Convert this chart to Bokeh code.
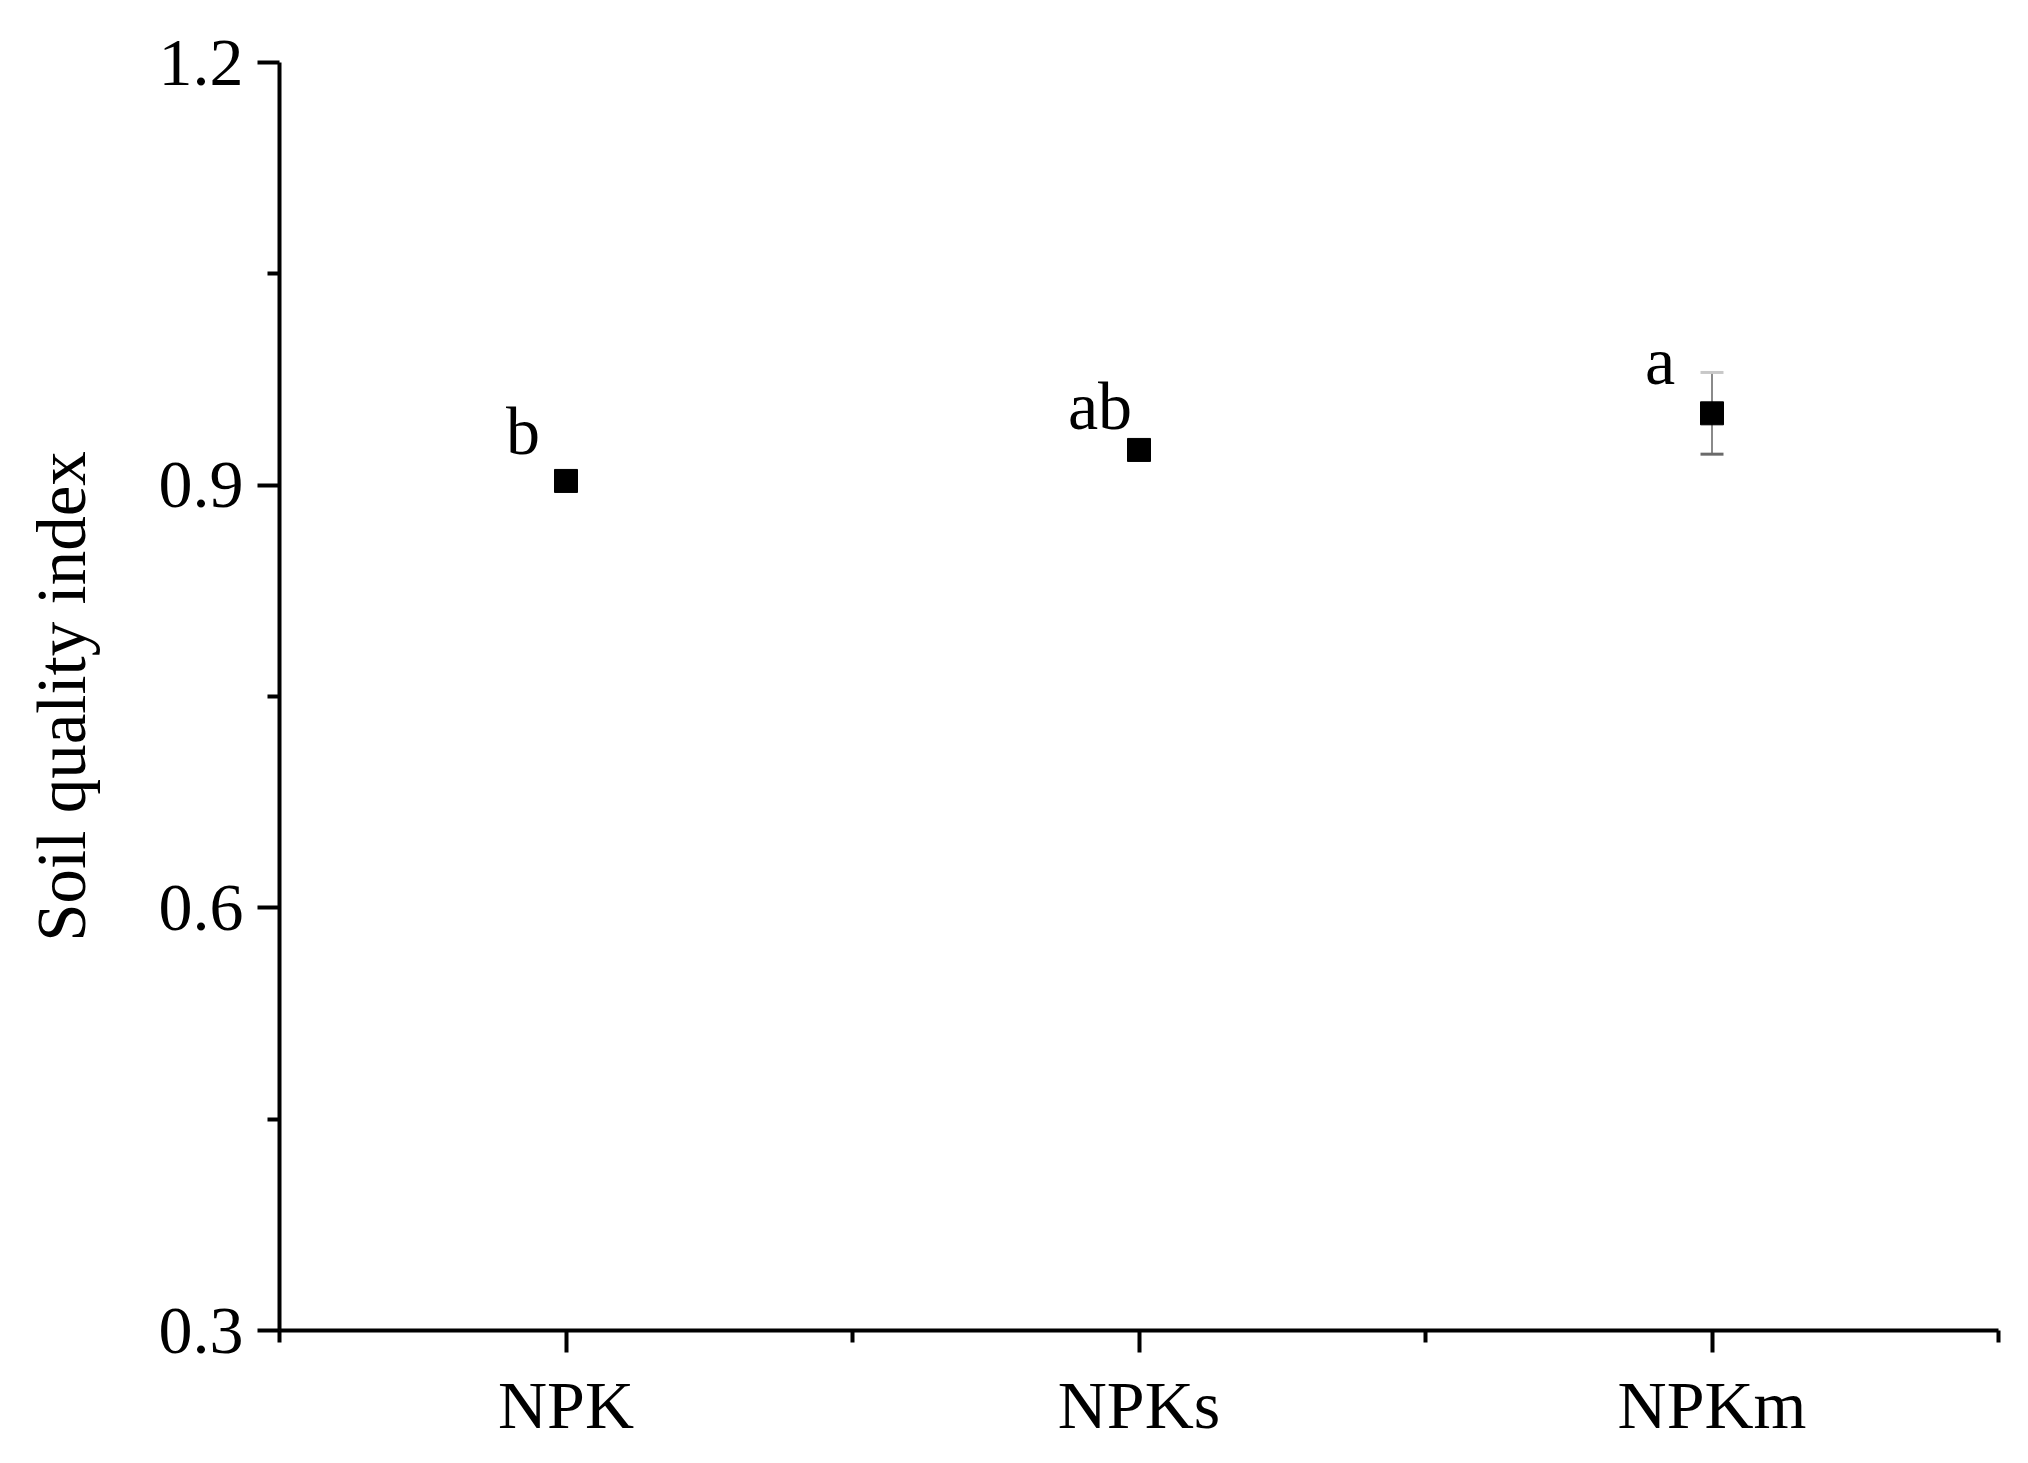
from bokeh.plotting import figure
from bokeh.models import FixedTicker, Whisker, ColumnDataSource, Range1d
from bokeh.core.properties import value
from bokeh.embed import file_html
from bokeh.resources import INLINE

# ---- data ----
categories = ["NPK", "NPKs", "NPKm"]
sqi_mean = [0.903, 0.925, 0.951]
sqi_err = [0.005, 0.005, 0.029]
letters = ["b", "ab", "a"]
y_ticks = [0.3, 0.6, 0.9, 1.2]
y_minor = [0.45, 0.75, 1.05]

# ---- styling (pixel offsets of the letter labels) ----
letter_dx = [-43, -39, -52]
letter_dy = [-50, -44, -52]

FONT = "Liberation Serif"
W, H = 2012, 1447

xs = [i + 1 for i in range(len(categories))]
src = ColumnDataSource(dict(
    x=xs, y=sqi_mean,
    upper=[m + e for m, e in zip(sqi_mean, sqi_err)],
    lower=[m - e for m, e in zip(sqi_mean, sqi_err)],
    lab=letters, dx=letter_dx, dy=letter_dy,
))

p = figure(width=W, height=H, output_backend="svg", toolbar_location=None,
           x_range=Range1d(0.5, len(categories) + 0.5), y_range=Range1d(0.3, 1.2),
           min_border_left=279, min_border_right=14, min_border_top=62, min_border_bottom=117)
p.outline_line_color = None
p.grid.visible = False
p.background_fill_color = "white"
p.border_fill_color = "white"

# axes
p.xaxis.ticker = FixedTicker(ticks=xs, minor_ticks=[0.5 + i for i in range(len(categories) + 1)])
p.xaxis.major_label_overrides = {x: c for x, c in zip(xs, categories)}
p.yaxis.ticker = FixedTicker(ticks=y_ticks, minor_ticks=y_minor)
p.yaxis.major_label_overrides = {t: f"{t:.1f}" for t in y_ticks}
p.yaxis.axis_label = "Soil quality index"

for ax in (p.xaxis[0], p.yaxis[0]):
    ax.axis_line_width = 4
    ax.axis_line_color = "black"
    ax.major_tick_line_width = 4
    ax.minor_tick_line_width = 4
    ax.major_tick_line_color = "black"
    ax.minor_tick_line_color = "black"
    ax.major_tick_out = 22
    ax.major_tick_in = 0
    ax.minor_tick_out = 12
    ax.minor_tick_in = 0
    ax.major_label_text_font = FONT
    ax.major_label_text_font_size = "68px"
    ax.major_label_text_color = "black"
    ax.axis_label_text_font = FONT
    ax.axis_label_text_font_size = "69px"
    ax.axis_label_text_font_style = "normal"
    ax.axis_label_text_color = "black"

p.xaxis.major_label_standoff = 14
p.yaxis.major_label_standoff = 14
p.yaxis.axis_label_standoff = 56

# error bars
wh = Whisker(base="x", upper="upper", lower="lower", source=src, dimension="height",
             line_color="#8a8a8a", line_width=2)
wh.upper_head.size = 23
wh.lower_head.size = 23
wh.upper_head.line_color = "#c8c8c8"
wh.upper_head.line_width = 3
wh.lower_head.line_color = "#6a6a6a"
wh.lower_head.line_width = 3
p.add_layout(wh)

# points
p.scatter(x="x", y="y", source=src, marker="square", size=23,
          fill_color="black", line_color="black")

# significance letters
p.text(x="x", y="y", text="lab", source=src, x_offset="dx", y_offset="dy",
       text_align="center", text_baseline="alphabetic",
       text_font=value(FONT), text_font_size="68px", text_color="black")

open("out.html", "w").write(file_html(p, INLINE))
